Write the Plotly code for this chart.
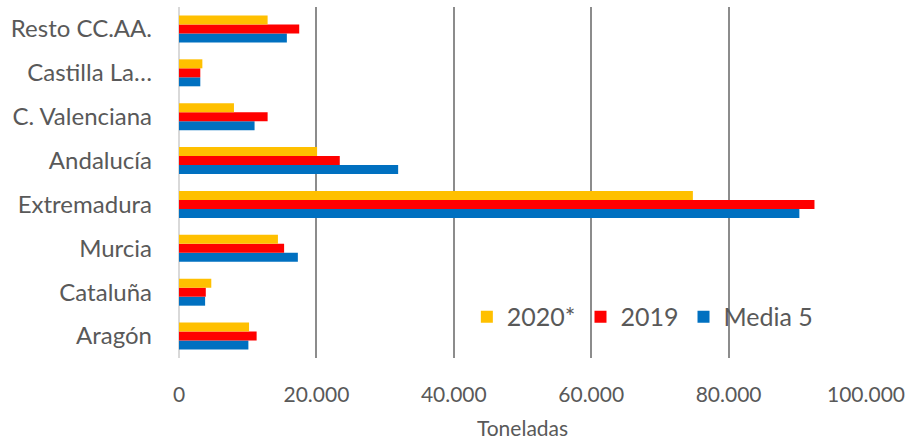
import plotly.graph_objects as go

categories = ["Aragón", "Cataluña", "Murcia", "Extremadura", "Andalucía",
              "C. Valenciana", "Castilla La…", "Resto CC.AA."]
v2020 = [10200, 4700, 14400, 74800, 20100, 8000, 3400, 12900]
v2019 = [11300, 3900, 15300, 92500, 23400, 12900, 3100, 17500]
media5 = [10100, 3800, 17300, 90300, 31900, 11000, 3100, 15700]

tick_vals = [0, 20000, 40000, 60000, 80000, 100000]
tick_text = ["0", "20.000", "40.000", "60.000", "80.000", "100.000"]

FONT = "Lato"
TXT = "#595959"

fig = go.Figure()
fig.add_trace(go.Bar(y=categories, x=media5, name="Media 5", orientation="h",
                     marker=dict(color="#0070C0", line=dict(width=0))))
fig.add_trace(go.Bar(y=categories, x=v2019, name="2019", orientation="h",
                     marker=dict(color="#FF0000", line=dict(width=0))))
fig.add_trace(go.Bar(y=categories, x=v2020, name="2020*", orientation="h",
                     marker=dict(color="#FFC000", line=dict(width=0))))

fig.update_layout(
    width=916, height=440,
    margin=dict(l=179, r=50, t=7, b=82),
    paper_bgcolor="white", plot_bgcolor="white",
    barmode="group", bargap=0.385, bargroupgap=0,
    font=dict(family=FONT, color=TXT, size=20),
    showlegend=True,
    legend=dict(orientation="h", traceorder="reversed",
                x=0.419, y=0.117, xanchor="left", yanchor="middle",
                bgcolor="rgba(0,0,0,0)", font=dict(size=25, color=TXT),
                itemwidth=30, itemsizing="constant"),
)
fig.update_xaxes(range=[0, 100000], tickvals=tick_vals, ticktext=tick_text,
                 showgrid=True, gridcolor="#8c8c8c", gridwidth=1.5,
                 zeroline=True, zerolinecolor="#d9d9d9", zerolinewidth=2,
                 showline=False, ticks="", ticklabelstandoff=22,
                 automargin=False,
                 tickfont=dict(size=21, color=TXT),
                 title=dict(text="Toneladas", font=dict(size=21, color=TXT), standoff=20))
fig.update_yaxes(showgrid=False, showline=False, ticks="", ticklabelstandoff=26,
                 automargin=False,
                 tickfont=dict(size=24, color=TXT))

fig.write_html("out.html", config={"displayModeBar": False},
               post_script="document.body.style.margin='0';document.body.style.overflow='hidden';")
